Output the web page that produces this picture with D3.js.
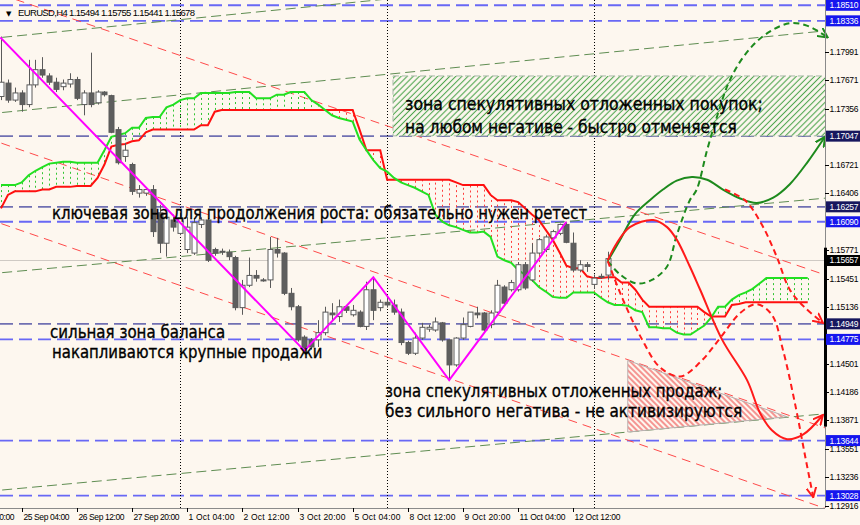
<!DOCTYPE html>
<html><head><meta charset="utf-8">
<script src="https://cdn.jsdelivr.net/npm/d3@7"></script>
<style>body{margin:0;background:#fdf7ef;} svg{display:block;}</style>
</head><body><svg id="c" width="860" height="525"></svg>
<script>
// ---------------- DATA ----------------
const symbolTitle = "EURUSD,H4 1.15494 1.15755 1.15441 1.15678";
const firstBar = -3; // index of first candle (0 = 25 Sep 04:00)
// [open, high, low, close]
const ohlc = [
[1.1749,1.1816,1.1745,1.1765],[1.1764,1.1768,1.1742,1.1745],[1.1745,1.1759,1.1743,1.1753],
[1.1753,1.1756,1.1732,1.1740],[1.1740,1.1790,1.1737,1.1762],[1.1762,1.1790,1.1759,1.1779],
[1.1779,1.1793,1.1770,1.1773],[1.1772,1.1775,1.1762,1.1765],[1.1765,1.1770,1.1754,1.1757],
[1.1760,1.1768,1.1756,1.1764],[1.1763,1.1775,1.1759,1.1768],[1.1768,1.1771,1.1745,1.1747],
[1.1740,1.1756,1.1728,1.1753],[1.1753,1.1798,1.1737,1.1740],[1.1742,1.1756,1.1740,1.1754],
[1.1754,1.1755,1.1749,1.1751],[1.1750,1.1751,1.1708,1.1709],[1.1712,1.1715,1.1673,1.1675],
[1.1682,1.1697,1.1676,1.1689],[1.1673,1.1675,1.1639,1.1643],[1.1641,1.1650,1.1636,1.1645],
[1.1641,1.1647,1.1638,1.1645],[1.1645,1.1650,1.1592,1.1598],[1.1619,1.1628,1.1574,1.1585],
[1.1585,1.1617,1.1570,1.1614],[1.1611,1.1617,1.1598,1.1603],[1.1596,1.1619,1.1594,1.1613],
[1.1578,1.1614,1.1574,1.1603],[1.1574,1.1613,1.1572,1.1608],[1.1606,1.1614,1.1602,1.1611],
[1.1611,1.1613,1.1564,1.1566],[1.1578,1.1580,1.1571,1.1574],[1.1576,1.1579,1.1572,1.1575],
[1.1575,1.1578,1.1566,1.1570],[1.1569,1.1571,1.1510,1.1513],[1.1513,1.1544,1.1505,1.1538],
[1.1538,1.1569,1.1536,1.1549],[1.1549,1.1555,1.1542,1.1546],[1.1544,1.1546,1.1542,1.1543],
[1.1544,1.1592,1.1535,1.1578],[1.1578,1.1591,1.1569,1.1574],[1.1574,1.1575,1.1527,1.1529],
[1.1529,1.1535,1.1510,1.1514],[1.1514,1.1516,1.1475,1.1477],[1.1480,1.1482,1.1465,1.1468],
[1.1477,1.1479,1.1466,1.1469],[1.1477,1.1499,1.1469,1.1485],[1.1485,1.1514,1.1482,1.1508],
[1.1507,1.1518,1.1499,1.1505],[1.1503,1.1522,1.1497,1.1514],[1.1514,1.1516,1.1507,1.1510],
[1.1505,1.1516,1.1503,1.1510],[1.1508,1.1510,1.1491,1.1492],[1.1492,1.1542,1.1488,1.1533],
[1.1533,1.1547,1.1499,1.1510],[1.1513,1.1522,1.1509,1.1519],[1.1519,1.1524,1.1513,1.1516],
[1.1516,1.1522,1.1505,1.1508],[1.1508,1.1512,1.1471,1.1474],[1.1474,1.1476,1.1460,1.1462],
[1.1462,1.1485,1.1460,1.1479],[1.1479,1.1496,1.1477,1.1491],[1.1489,1.1494,1.1486,1.1491],
[1.1488,1.1502,1.1486,1.1497],[1.1496,1.1497,1.1475,1.1477],[1.1477,1.1477,1.1432,1.1449],
[1.1449,1.1480,1.1447,1.1479],[1.1479,1.1502,1.1477,1.1494],[1.1492,1.1508,1.1491,1.1508],
[1.1507,1.1514,1.1501,1.1505],[1.1507,1.1508,1.1486,1.1488],[1.1494,1.1510,1.1490,1.1507],
[1.1508,1.1544,1.1507,1.1538],[1.1536,1.1538,1.1516,1.1518],[1.1533,1.1544,1.1531,1.1541],
[1.1533,1.1564,1.1531,1.1561],[1.1561,1.1564,1.1533,1.1535],[1.1544,1.1585,1.1542,1.1574],
[1.1574,1.1591,1.1572,1.1589],[1.1578,1.1594,1.1575,1.1592],[1.1591,1.1600,1.1589,1.1598],
[1.1596,1.1607,1.1594,1.1606],[1.1606,1.1609,1.1585,1.1586],[1.1585,1.1597,1.1553,1.1555],
[1.1555,1.1566,1.1553,1.1561],[1.1561,1.1564,1.1553,1.1559],[1.1539,1.1550,1.1534,1.1546],
[1.1548,1.1551,1.1545,1.1547],[1.15494,1.15755,1.15441,1.15678]
];
// Ichimoku cloud spans, one value per bar from firstBar
const spanA = [
1.1650,1.1650,1.1650,1.1653,1.1661,1.1666,1.1670,1.1674,1.1675,1.1676,1.1676,1.1675,1.1675,1.1675,1.1675,
1.1689,1.1704,1.1706,1.1708,1.1714,1.1714,1.1725,1.1726,1.1726,1.1737,1.1740,1.1745,1.1747,1.1747,
1.1753,1.1753,1.1753,1.1753,1.1753,1.1754,1.1754,1.1754,1.1747,1.1747,1.1747,1.1751,1.1751,1.1754,1.1754,1.1754,
1.1745,1.1740,1.1734,1.1728,1.1725,1.1723,1.1721,1.1701,1.1689,1.1678,1.1669,1.1665,1.1658,1.1653,1.1650,
1.1647,1.1643,1.1639,1.1617,1.1609,1.1605,1.1603,1.1600,1.1597,1.1597,1.1598,1.1592,1.1570,1.1566,1.1563,
1.1555,1.1550,1.1544,1.1536,1.1531,1.1525,1.1524,1.1524,1.1530,1.1530,1.1530,1.1530,1.1524,1.1519,1.1516,
1.1516,1.1515,1.1510,1.1508,1.1491,1.1491,1.1490,1.1490,1.1485,1.1483,1.1483,1.1488,1.1493,1.1502,1.1514,
1.1514,1.1522,1.1527,1.1530,1.1534,1.1540,1.1546,1.1546,1.1546,1.1546,1.1546,1.1546,1.1546
];
const spanB = [
1.1624,1.1639,1.1643,1.1643,1.1643,1.1643,1.1645,1.1645,1.1648,1.1648,1.1648,1.1649,1.1649,1.1649,
1.1658,1.1673,1.1693,1.1695,1.1696,1.1699,1.1700,1.1709,1.1712,1.1712,1.1712,1.1712,1.1712,1.1712,1.1712,
1.1717,1.1717,1.1732,
1.1734,1.1734,1.1734,1.1734,1.1734,1.1734,1.1734,1.1734,1.1734,1.1734,1.1734,1.1734,1.1734,1.1734,1.1734,
1.1734,1.1734,1.1734,1.1734,1.1734,
1.1712,1.1689,1.1689,1.1689,
1.1656,1.1656,1.1656,1.1656,1.1656,1.1656,1.1656,1.1656,1.1656,1.1656,
1.1653,1.1650,1.1650,1.1650,1.1650,1.1639,1.1633,1.1633,1.1633,1.1631,1.1624,1.1617,1.1611,1.1600,1.1589,
1.1575,1.1560,1.1557,1.1557,1.1548,1.1546,1.1546,1.1547,1.1547,1.1541,1.1541,1.1533,1.1522,
1.1514,1.1514,1.1514,1.1514,1.1514,1.1514,1.1514,1.1514,1.1508,1.1503,1.1503,1.1503,1.1516,1.1517,
1.1519,1.1519,1.1519,1.1519,1.1519,1.1519,1.1519,1.1519,1.1519,1.1519
];
// horizontal levels
const levelPrices = [1.18510,1.18336,1.17047,1.16257,1.16090,1.14949,1.14775,1.13644,1.13028];
const levelKinds  = ["blue","blue","navy","navy","blue","navy","blue","blue","blue"];
const bidPrice = 1.15657;
const priceTicks = [1.17991,1.17671,1.17356,1.16721,1.16406,1.15771,1.15451,1.15136,1.14501,1.14186,1.13871,1.13551,1.13236,1.12916];
const timeTickBars = [-8,0,8,16,24,32,40,48,56,64,72,80];
const timeTickLabels = ["21 Sep 20:00","25 Sep 04:00","26 Sep 12:00","27 Sep 20:00","1 Oct 04:00","2 Oct 12:00","3 Oct 20:00","5 Oct 04:00","8 Oct 12:00","9 Oct 20:00","11 Oct 04:00","12 Oct 12:00"];
const weekStartBars = [23,53,83];
const axisRangeBar = [1.1580,1.1380];
// trend lines [bar1, price1, bar2, price2]
const greenTrends = [[-3,1.1815,40,1.1848],[-3,1.1731,116,1.1822],[-3,1.1552,116,1.1635],[-3,1.1309,116,1.1394]];
const redTrends   = [[-3,1.1863,116,1.1551],[-3,1.1697,116,1.1380],[-3,1.1607,116,1.1290]];
// zigzag
const zigzag = [[-3.1,1.1815],[41,1.1465],[51,1.1547],[62,1.1432],[79,1.1609]];
// zones
const buyZone = [53.85,117,1.1772,1.1705];            // bar from, bar to, top, bottom
const sellZone = [[87.9,1.1454],[111.0,1.1391],[87.9,1.1374]];
// forecast paths [bar, price]
const greenSolid = [[85.0,1.1565],[86.8,1.1589],[88.9,1.1617],[91.1,1.1633],[93.0,1.1645],[95.0,1.1655],[97.2,1.1659],[99.4,1.1656],[101.7,1.1645],[104.2,1.1635],[106.6,1.1630],[109.0,1.1636],[111.4,1.1651],[114.0,1.1676],[116.5,1.1704]];
const greenDashed = [[85.0,1.1565],[86.8,1.1550],[89.2,1.1540],[91.4,1.1544],[93.6,1.1559],[95.0,1.1594],[96.9,1.1633],[97.9,1.1645],[99.4,1.1689],[100.9,1.1728],[102.4,1.1762],[104.2,1.1788],[106.4,1.1809],[108.8,1.1823],[111.4,1.1831],[113.6,1.1829],[115.5,1.1822],[116.9,1.1815]];
const redSolid = [[85.0,1.1566],[86.3,1.1585],[88.2,1.1603],[91.6,1.1611],[93.6,1.1603],[95.0,1.1589],[96.9,1.1559],[98.4,1.1533],[101.6,1.1477],[105.2,1.1432],[107.1,1.1395],[108.8,1.1376],[111.0,1.1366],[113.3,1.1371],[116.2,1.1393]];
const redDashedA = [[85.0,1.1565],[87.2,1.1522],[90.0,1.1477],[92.6,1.1446],[95.5,1.1436],[98.4,1.1452],[101.3,1.1479],[104.2,1.1507],[106.6,1.1517],[108.8,1.1505],[110.4,1.1466],[112.2,1.1404],[113.6,1.1348],[114.8,1.1301]];
const redDashedB = [[102.0,1.1645],[104.9,1.1633],[107.4,1.1605],[109.5,1.1570],[111.4,1.1533],[113.6,1.1513],[116.2,1.1496]];
// annotations [text, bar from, bar to, baseline price]
const notes = [
["зона спекулятивных отложенных покупок;",55.6,107.5,1.1734],
["на любом негативе - быстро отменяется",55.6,103.7,1.1708],
["ключевая зона для продолжения роста: обязательно нужен ретест",4.4,82.0,1.1612],
["сильная зона баланса",4.1,29.5,1.1479],
["накапливаются крупные продажи",4.4,43.6,1.1457],
["зона спекулятивных отложенных продаж;",52.7,101.6,1.1413],
["без сильного негатива - не активизируются",52.7,104.5,1.1391]
];

// ---------------- DRAW ----------------
const svg = d3.select("#c");
const PR = 825, PB = 508;
const x = d3.scaleLinear().domain([0, 80]).range([21.7, 573.3]);
const y = d3.scaleLinear().domain([1.12916, 1.17991]).range([505.7, 51.7]);
const BG = "#fdf7ef";
svg.append("rect").attr("width",860).attr("height",525).attr("fill",BG);

const defs = svg.append("defs");
defs.append("clipPath").attr("id","clip").append("rect").attr("x",0).attr("y",0).attr("width",PR).attr("height",PB);
defs.append("clipPath").attr("id","clipAll").append("rect").attr("x",0).attr("y",0).attr("width",860).attr("height",525);
function hatch(id, color, angle, w){
  const p = defs.append("pattern").attr("id",id).attr("patternUnits","userSpaceOnUse")
    .attr("width",w).attr("height",w).attr("patternTransform",`rotate(${angle})`);
  p.append("rect").attr("width",w).attr("height",w).attr("fill",BG);
  p.append("line").attr("x1",w/2).attr("y1",0).attr("x2",w/2).attr("y2",w).attr("stroke",color).attr("stroke-width",1.1);
}
hatch("gh","#4ea64e",45,4.3);
hatch("rh","#f04545",-45,4.0);
function marker(id,color){
  defs.append("marker").attr("id",id).attr("viewBox","0 0 10 10").attr("refX",9).attr("refY",5)
    .attr("markerWidth",11).attr("markerHeight",11).attr("markerUnits","userSpaceOnUse").attr("orient","auto")
    .append("path").attr("d","M0,0.5 L9,5 L0,9.5").attr("fill","none").attr("stroke",color).attr("stroke-width",1.8);
}
marker("ag","#1d8a1d"); marker("ar","#ff1a1a");

const g = svg.append("g").attr("clip-path","url(#clip)");

// levels
const levelColor = {blue:"#6868f5", navy:"#7070b2"};
g.selectAll(".lvl").data(levelPrices).enter().append("line")
  .attr("x1",0).attr("x2",PR).attr("y1",d=>y(d)).attr("y2",d=>y(d))
  .attr("stroke",(d,i)=>levelColor[levelKinds[i]]).attr("stroke-width",1.8).attr("stroke-dasharray","13,6");
// bid line
g.append("line").attr("x1",0).attr("x2",PR).attr("y1",y(bidPrice)).attr("y2",y(bidPrice)).attr("stroke","#cfcac4").attr("stroke-width",1);
// week separators
g.selectAll(".wk").data(weekStartBars).enter().append("line")
  .attr("x1",d=>Math.round(x(d))+0.5).attr("x2",d=>Math.round(x(d))+0.5).attr("y1",0).attr("y2",PB)
  .attr("stroke","#000").attr("stroke-width",1).attr("stroke-dasharray","1,2");

// trend lines (extended across plot)
function ext(t){ const [b1,p1,b2,p2]=t; const s=(p2-p1)/(b2-b1); return [[-5,p1+s*(-5-b1)],[120,p1+s*(120-b1)]]; }
g.selectAll(".gt").data(greenTrends).enter().append("line")
  .attr("x1",d=>x(ext(d)[0][0])).attr("y1",d=>y(ext(d)[0][1])).attr("x2",d=>x(ext(d)[1][0])).attr("y2",d=>y(ext(d)[1][1]))
  .attr("stroke","#5f8d52").attr("stroke-width",1).attr("stroke-dasharray","10,5");
g.selectAll(".rt").data(redTrends).enter().append("line")
  .attr("x1",d=>x(ext(d)[0][0])).attr("y1",d=>y(ext(d)[0][1])).attr("x2",d=>x(ext(d)[1][0])).attr("y2",d=>y(ext(d)[1][1]))
  .attr("stroke","#ff4a4a").attr("stroke-width",1).attr("stroke-dasharray","9,6");

// zones
g.append("rect").attr("x",x(buyZone[0])).attr("y",y(buyZone[2])).attr("width",x(buyZone[1])-x(buyZone[0]))
  .attr("height",y(buyZone[3])-y(buyZone[2])).attr("fill","url(#gh)").attr("stroke","#a9b9a9").attr("stroke-dasharray","6,3");
g.append("path").attr("d",d3.line().x(d=>x(d[0])).y(d=>y(d[1]))(sellZone)+"Z")
  .attr("fill","url(#rh)").attr("stroke","#b8b0b0").attr("stroke-width",1);

// cloud hatch
spanA.forEach((a,k)=>{
  const b = spanB[k], i = firstBar + k;
  g.append("line").attr("x1",Math.round(x(i))+0.5).attr("x2",Math.round(x(i))+0.5).attr("y1",y(a)).attr("y2",y(b))
   .attr("stroke", a>=b ? "#33c533" : "#ff3c3c").attr("stroke-width",1).attr("stroke-dasharray","2,3");
});
const spanLine = d3.line().x((d,k)=>x(firstBar+k)).y(d=>y(d));
g.append("path").attr("d",spanLine(spanB)).attr("fill","none").attr("stroke","#ff1010").attr("stroke-width",2);
g.append("path").attr("d",spanLine(spanA)).attr("fill","none").attr("stroke","#22e022").attr("stroke-width",2);

// candles
const cg = g.append("g");
ohlc.forEach((d,k)=>{
  const i = firstBar + k, cx = Math.round(x(i))+0.5;
  const [o,h,l,c] = d;
  cg.append("line").attr("x1",cx).attr("x2",cx).attr("y1",y(h)).attr("y2",y(l)).attr("stroke","#5a5a5a");
  const top = y(Math.max(o,c)), bot = y(Math.min(o,c));
  cg.append("rect").attr("x",cx-2.5).attr("y",top).attr("width",5).attr("height",Math.max(1,bot-top))
    .attr("fill", c>=o ? "#ffffff" : "#5e5e5e").attr("stroke","#5a5a5a").attr("stroke-width",1);
});

// zigzag
g.append("path").attr("d",d3.line().x(d=>x(d[0])).y(d=>y(d[1]))(zigzag)).attr("fill","none").attr("stroke","#ff00ff").attr("stroke-width",2);

// forecasts
const curve = d3.line().x(d=>x(d[0])).y(d=>y(d[1])).curve(d3.curveCatmullRom.alpha(0.5));
const svgTop = svg.append("g");
function path(data,color,dash,mk){
  svgTop.append("path").attr("d",curve(data)).attr("fill","none").attr("stroke",color).attr("stroke-width",2)
    .attr("stroke-dasharray",dash).attr("marker-end",mk?`url(#${mk})`:null);
}
path(greenSolid,"#1d8a1d",null,"ag");
path(greenDashed,"#1d8a1d","6,4","ag");
path(redSolid,"#ff1a1a",null,"ar");
path(redDashedA,"#ff1a1a","6,4","ar");
path(redDashedB,"#ff1a1a","6,4","ar");

// annotations
notes.forEach(([t,b0,b1,p])=>{
  svg.append("text").attr("x",x(b0)).attr("y",y(p)).attr("textLength",x(b1)-x(b0)).attr("lengthAdjust","spacingAndGlyphs")
    .attr("font-family","DejaVu Sans").attr("font-size",17.5).attr("fill","#000")
    .attr("stroke","#000").attr("stroke-width",0.35).text(t);
});

// header
svg.append("text").attr("x",6).attr("y",16).attr("font-family","DejaVu Sans").attr("font-size",7).attr("fill","#000").text("▼");
svg.append("text").attr("x",18).attr("y",16).attr("font-family","Liberation Sans").attr("font-size",9.5).attr("textLength",177).attr("fill","#000").text(symbolTitle);

// axes
const ax = svg.append("g").attr("font-family","Liberation Sans").attr("font-size",8.5).attr("fill","#000");
ax.append("line").attr("x1",PR+0.5).attr("x2",PR+0.5).attr("y1",0).attr("y2",PB).attr("stroke","#8a8a8a");
ax.append("line").attr("x1",0).attr("x2",PR).attr("y1",PB+0.5).attr("y2",PB+0.5).attr("stroke","#8a8a8a");
ax.append("line").attr("x1",PR+0.5).attr("x2",PR+0.5).attr("y1",y(axisRangeBar[0])).attr("y2",y(axisRangeBar[1])).attr("stroke","#000").attr("stroke-width",3);
priceTicks.forEach(v=>{
  ax.append("line").attr("x1",PR).attr("x2",PR+4).attr("y1",Math.round(y(v))+0.5).attr("y2",Math.round(y(v))+0.5).attr("stroke","#000");
  ax.append("text").attr("x",829.5).attr("y",y(v)+3).attr("textLength",29).text(v.toFixed(5));
});
const labelBg = {blue:"#1616ee", navy:"#17175e"};
levelPrices.forEach((v,i)=>{
  ax.append("rect").attr("x",826).attr("y",y(v)-5.5).attr("width",34).attr("height",11).attr("fill",labelBg[levelKinds[i]]);
  ax.append("text").attr("x",829.5).attr("y",y(v)+3).attr("textLength",29).attr("fill","#fff").text(v.toFixed(5));
});
ax.append("rect").attr("x",826).attr("y",y(bidPrice)-5.5).attr("width",34).attr("height",11).attr("fill","#000");
ax.append("text").attr("x",829.5).attr("y",y(bidPrice)+3).attr("textLength",29).attr("fill","#fff").text(bidPrice.toFixed(5));
const tg = ax.append("g").attr("clip-path","url(#clipAll)");
timeTickBars.forEach((b,i)=>{
  const tx = Math.round(x(b))+0.5;
  tg.append("line").attr("x1",tx).attr("x2",tx).attr("y1",PB).attr("y2",PB+4).attr("stroke","#000");
  tg.append("text").attr("x",tx+1).attr("y",520).attr("textLength",46).text(timeTickLabels[i]);
});
</script></body></html>
